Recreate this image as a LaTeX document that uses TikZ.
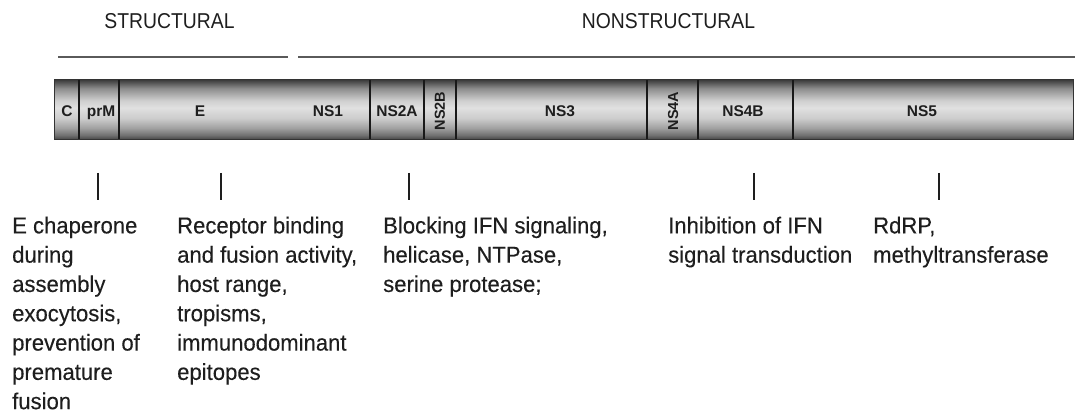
\documentclass[tikz,border=0pt]{standalone}
\usepackage{fontspec}
\setmainfont{Liberation Sans}
\newfontfamily\narrowsans[FakeStretch=0.96,FakeBold=0.25]{Liberation Sans}
\newfontfamily\headsans[FakeStretch=0.9]{Liberation Sans}

% Cylinder-like grey shading of the polyprotein bar (path maps to 25bp..75bp)
\pgfdeclareverticalshading{polybar}{100bp}{%
  color(0bp)=(black!75);
  color(25bp)=(black!75);
  color(29bp)=(black!56);
  color(35bp)=(black!37);
  color(43bp)=(black!20);
  color(52bp)=(black!12);
  color(58bp)=(black!19);
  color(68bp)=(black!45);
  color(72.5bp)=(black!65);
  color(75bp)=(black!76);
  color(100bp)=(black!76)}

\definecolor{ink}{HTML}{1E1E1E}
\definecolor{rule}{HTML}{5A5A5A}

\tikzset{
  header/.style={font=\headsans\fontsize{21.5}{24}\selectfont, text=ink, inner sep=0pt, anchor=base},
  headline/.style={draw=rule, line width=1.8pt},
  seglabel/.style={font=\fontsize{15.5}{17}\selectfont\bfseries, text=ink, inner sep=0pt, anchor=base},
  vlabel/.style={font=\fontsize{14.5}{16}\selectfont\bfseries, text=ink, inner sep=0pt, rotate=90, anchor=center},
  divider/.style={draw=black!90, line width=1.5pt},
  barframe/.style={draw=black!80, line width=1pt, shading=polybar},
  tickmark/.style={draw=ink, line width=1.2pt},
  note/.style={font=\narrowsans\fontsize{23}{29.3}\selectfont, text=ink, inner sep=0pt, anchor=north west, align=left}
}

\begin{document}
\begin{tikzpicture}[x=1pt, y=-1pt]
\useasboundingbox (0,0) rectangle (1075,414);

% group headings and their rules
\node[header] (hstruct) at (169.5,29) {STRUCTURAL};
\node[header] (hnonstruct) at (668.5,29) {NONSTRUCTURAL};
\coordinate (sl) at (58,57);  \coordinate (sr) at (288,57);
\coordinate (nl) at (298,57); \coordinate (nr) at (1075,57);
\draw[headline] (sl) -- (sr);
\draw[headline] (nl) -- (nr);

% the polyprotein bar
\path[barframe] (54,80) rectangle (1073,140);
\foreach \x in {79,119,370,424,456,647,698,793}
  \draw[divider] (\x,80.5) -- (\x,139.5);

% protein names
\node[seglabel] (c)    at (67,117)  {C};
\node[seglabel] (prm)  at (101,117) {prM};
\node[seglabel] (e)    at (200,117) {E};
\node[seglabel] (ns1)  at (328,117) {NS1};
\node[seglabel] (ns2a) at (397,117) {NS2A};
\node[vlabel]   (ns2b) at (440,111) {NS2B};
\node[seglabel] (ns3)  at (560,117) {NS3};
\node[vlabel]   (ns4a) at (673,111) {NS4A};
\node[seglabel] (ns4b) at (743,117) {NS4B};
\node[seglabel] (ns5)  at (922,117) {NS5};

% functions
\node[note] (fprm) at (12,216.5)
  {E chaperone\\during\\assembly\\exocytosis,\\prevention of\\premature\\fusion};
\node[note] (fe) at (177,216.5)
  {Receptor binding\\and fusion activity,\\host range,\\tropisms,\\immunodominant\\epitopes};
\node[note] (fns3) at (383,216.5)
  {Blocking IFN signaling,\\helicase, NTPase,\\serine protease;};
\node[note] (fns4b) at (668,216.5)
  {Inhibition of IFN\\signal transduction};
\node[note] (fns5) at (873,216.5)
  {RdRP,\\methyltransferase};

% short ticks above each function
\foreach \n/\x in {t1/98,t2/221,t3/409,t4/754,t5/939}{
  \coordinate (\n a) at (\x,173);
  \coordinate (\n b) at (\x,200);
  \draw[tickmark] (\n a) -- (\n b);
}
\end{tikzpicture}
\end{document}
